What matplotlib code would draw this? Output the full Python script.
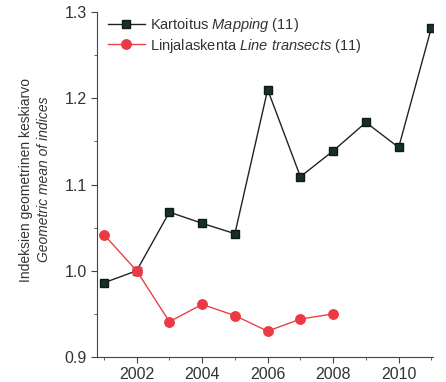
import matplotlib
matplotlib.use("Agg")
import matplotlib.pyplot as plt
from matplotlib.ticker import MultipleLocator

plt.rcParams['font.family'] = ['Liberation Sans', 'DejaVu Sans']
plt.rcParams['mathtext.fontset'] = 'custom'
plt.rcParams['mathtext.rm'] = 'Liberation Sans'
plt.rcParams['mathtext.it'] = 'Liberation Sans:italic'

years_map = [2001, 2002, 2003, 2004, 2005, 2006, 2007, 2008, 2009, 2010, 2011]
mapping = [0.986, 1.000, 1.068, 1.055, 1.043, 1.210, 1.109, 1.139, 1.172, 1.143, 1.282]
years_line = [2001, 2002, 2003, 2004, 2005, 2006, 2007, 2008]
transects = [1.042, 1.000, 0.941, 0.961, 0.948, 0.930, 0.944, 0.950]
base_year = 2002  # common reference year (index = 1.0)

label_map = r"Kartoitus $\it{Mapping}$ (11)"
label_line = r"Linjalaskenta $\it{Line\ transects}$ (11)"

txt = '#333333'
red = '#ec3a45'
fig = plt.figure(figsize=(4.46, 3.82), dpi=100)
ax = fig.add_axes([0.2175, 0.0654, 0.7535, 0.9032])

ax.plot(years_map, mapping, '-', color='#222222', lw=1.0, marker='s', ms=6.2,
        mfc='#17302a', mec='#0d1a16', label=label_map, zorder=2)
ax.plot(years_line, transects, '-', color='#e8414a', lw=1.0, marker='o', ms=6.8,
        mfc=red, mec=red, label=label_line, zorder=3)
bi = years_line.index(base_year)
ax.plot([years_line[bi]], [transects[bi]], 's', ms=6.2, mfc=red, mec=red, zorder=4)

ax.set_xlim(2000.79, 2011.05)
ax.set_ylim(0.9, 1.3)
ax.xaxis.set_major_locator(MultipleLocator(2))
ax.xaxis.set_minor_locator(MultipleLocator(1))
ax.yaxis.set_major_locator(MultipleLocator(0.1))
ax.yaxis.set_minor_locator(MultipleLocator(0.05))
ax.yaxis.set_major_formatter(matplotlib.ticker.FormatStrFormatter('%.1f'))
for s in ['top', 'right']:
    ax.spines[s].set_visible(False)
for s in ['left', 'bottom']:
    ax.spines[s].set_color('#444444')
ax.tick_params(which='major', direction='out', length=4, color='#444444',
               labelsize=11.5, labelcolor=txt)
ax.tick_params(which='minor', direction='out', length=2.5, color='#444444')

leg = ax.legend(loc='upper left', frameon=False, fontsize=10.5, handlelength=2.5,
                borderaxespad=0.0, labelspacing=0.15, handletextpad=0.35,
                borderpad=0.3, bbox_to_anchor=(0.02, 1.0))
for t in leg.get_texts():
    t.set_color(txt)

fig.text(0.058, 0.53, "Indeksien geometrinen keskiarvo", rotation=90,
         ha='center', va='center', fontsize=10, color=txt)
fig.text(0.098, 0.53, "Geometric mean of indices", rotation=90, style='italic',
         ha='center', va='center', fontsize=10, color=txt)

fig.savefig('out.png', dpi=100)
